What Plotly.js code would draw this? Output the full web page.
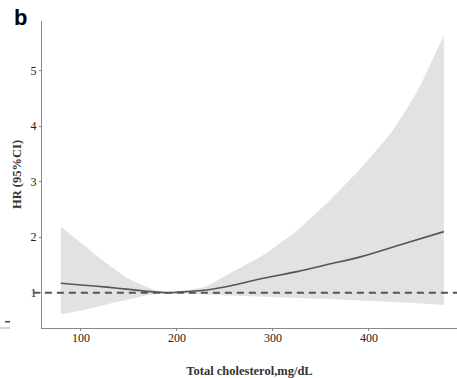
<!DOCTYPE html>
<html>
<head>
<meta charset="utf-8">
<script src="https://cdn.plot.ly/plotly-3.0.1.min.js"></script>
<style>html,body{margin:0;padding:0;background:#fff;}#chart{width:457px;height:378px;}</style>
</head>
<body>
<div id="chart"></div>
<script>
// Fitted hazard ratio curve
const lineX  = [79, 100, 127, 150, 172, 190, 210, 231, 255, 290, 325, 360, 392, 432, 478];
const lineHR = [1.17, 1.14, 1.10, 1.06, 1.02, 1.00, 1.02, 1.05, 1.12, 1.26, 1.38, 1.52, 1.65, 1.86, 2.10];
// Upper 95% CI
const upperX  = [79, 100, 125, 150, 175, 190, 210, 231, 255, 290, 325, 360, 392, 425, 450, 478];
const upperCI = [2.19, 1.90, 1.55, 1.25, 1.06, 1.00, 1.04, 1.12, 1.35, 1.68, 2.12, 2.68, 3.25, 3.93, 4.62, 5.64];
// Lower 95% CI
const lowerX  = [79, 100, 125, 150, 175, 190, 210, 250, 300, 350, 400, 450, 478];
const lowerCI = [0.61, 0.68, 0.78, 0.88, 0.97, 1.00, 0.98, 0.95, 0.92, 0.89, 0.85, 0.81, 0.78];
const xTicks = [100, 200, 300, 400];
const yTicks = [1, 2, 3, 4, 5];
const refHR = 1;

const serif = "Liberation Serif, Times New Roman, serif";

const traces = [
  {x: lowerX, y: lowerCI, type: 'scatter', mode: 'lines',
   line: {width: 0, color: 'rgba(0,0,0,0)', shape: 'spline', smoothing: 0.6}, hoverinfo: 'skip', showlegend: false},
  {x: upperX, y: upperCI, type: 'scatter', mode: 'lines', fill: 'tonexty', fillcolor: '#e2e2e2',
   line: {width: 0, color: 'rgba(0,0,0,0)', shape: 'spline', smoothing: 0.6}, hoverinfo: 'skip', showlegend: false},
  {x: lineX, y: lineHR, type: 'scatter', mode: 'lines',
   line: {color: '#555555', width: 1.6, shape: 'spline', smoothing: 0.8}, showlegend: false}
];

const layout = {
  width: 457, height: 378,
  margin: {l: 42, r: 0, t: 21, b: 50},
  paper_bgcolor: '#ffffff', plot_bgcolor: '#ffffff',
  showlegend: false,
  xaxis: {
    range: [59.4, 491.7],
    tickvals: xTicks, ticktext: xTicks.map(String),
    showgrid: false, zeroline: false,
    showline: true, linecolor: '#888888', linewidth: 1,
    ticks: 'outside', ticklen: 2, tickcolor: '#888888',
    ticklabelstandoff: -3,
    tickfont: {family: serif, size: 12, color: '#222222'},
    title: {text: 'Total cholesterol,mg/dL', font: {family: serif, size: 12.5, color: '#333333', weight: 'bold'}, standoff: 22}
  },
  yaxis: {
    range: [0.364, 5.895],
    tickvals: yTicks, ticktext: yTicks.map(String),
    showgrid: false, zeroline: false,
    showline: true, linecolor: '#888888', linewidth: 1,
    ticks: 'outside', ticklen: 2, tickcolor: '#888888',
    tickfont: {family: serif, size: 12, color: '#222222'},
    title: {text: 'HR (95%CI)', font: {family: serif, size: 12.5, color: '#333333', weight: 'bold'}, standoff: 6}
  },
  shapes: [
    {type: 'line', xref: 'paper', yref: 'y', x0: -0.022, x1: 1, y0: refHR, y1: refHR,
     line: {color: '#555555', width: 2, dash: '7px,5px'}},
    {type: 'line', xref: 'paper', yref: 'paper', x0: -0.089, x1: -0.077, y0: 0.0205, y1: 0.0205,
     line: {color: '#444444', width: 1.5}},
    {type: 'line', xref: 'paper', yref: 'paper', x0: -0.101, x1: -0.077, y0: 0, y1: 0,
     line: {color: '#aaaaaa', width: 1}}
  ],
  annotations: [
    {text: '<b>b</b>', xref: 'paper', yref: 'paper', x: -0.053, y: 1.013, xanchor: 'center', yanchor: 'middle',
     showarrow: false, font: {family: 'Liberation Sans, Arial, sans-serif', size: 22, color: '#000000'}}
  ]
};

Plotly.newPlot('chart', traces, layout, {displayModeBar: false, staticPlot: true});
</script>
</body>
</html>
